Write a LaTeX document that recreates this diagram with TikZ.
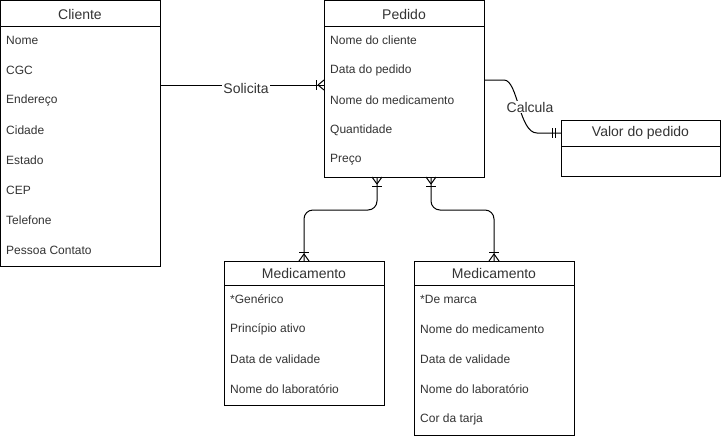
\documentclass[tikz,border=0pt]{standalone}
\usepackage{fontspec}
\setmainfont{Liberation Sans}
\begin{document}
\begin{tikzpicture}[x=1pt,y=-1pt,
  ent/.style={draw=black,line width=1pt,fill=white},
  ttl/.style={font=\fontsize{14}{16}\selectfont,text=black!80,inner sep=0pt},
  attr/.style={font=\fontsize{12}{14}\selectfont,text=black!80,anchor=west,inner sep=0pt},
  conn/.style={draw=black,line width=1pt},
  ermk/.style={draw=black,line width=1pt},
  lbl/.style={font=\fontsize{14}{16}\selectfont,text=black!80,fill=white,inner sep=1pt}]
\useasboundingbox[fill=white] (0,0) rectangle (721,440);

% Cliente
\draw[ent] (0.5,0.5) rectangle (160,266);
\draw[ent] (0.5,26) -- (160,26);
\node[ttl] (cliT) at (80,14) {Cliente};
\node[attr] (c1) at (6,40) {Nome};
\node[attr] (c2) at (6,70) {CGC};
\node[attr] (c3) at (6,100) {Endereço};
\node[attr] (c4) at (6,130) {Cidade};
\node[attr] (c5) at (6,160) {Estado};
\node[attr] (c6) at (6,190) {CEP};
\node[attr] (c7) at (6,220) {Telefone};
\node[attr] (c8) at (6,250) {Pessoa Contato};
\coordinate (cliR) at (160,85);

% Pedido
\draw[ent] (324,0.5) rectangle (484,177);
\draw[ent] (324,26) -- (484,26);
\node[ttl] (pedT) at (404,14) {Pedido};
\node[attr] (p1) at (330,40) {Nome do cliente};
\node[attr] (p2) at (330,70) {Data do pedido};
\node[attr] (p3) at (330,100) {Nome do medicamento};
\node[attr] (p4) at (330,130) {Quantidade};
\node[attr] (p5) at (330,160) {Preço};
\coordinate (pedL) at (324,85);
\coordinate (pedR) at (484,80);
\coordinate (pedB1) at (377,177);
\coordinate (pedB2) at (431,177);

% Valor do pedido
\draw[ent] (561,120) rectangle (720,176);
\draw[ent] (561,146) -- (720,146);
\node[ttl] (valT) at (640.5,133) {Valor do pedido};
\coordinate (valL) at (561,133);

% Medicamento 1
\draw[ent] (224,261) rectangle (384,405);
\draw[ent] (224,285) -- (384,285);
\node[ttl] (m1T) at (304,273) {Medicamento};
\node[attr] (m11) at (230,299) {*Genérico};
\node[attr] (m12) at (230,329) {Princípio ativo};
\node[attr] (m13) at (230,359) {Data de validade};
\node[attr] (m14) at (230,389) {Nome do laboratório};
\coordinate (m1Top) at (304,261);

% Medicamento 2
\draw[ent] (414,261) rectangle (574,435);
\draw[ent] (414,285) -- (574,285);
\node[ttl] (m2T) at (494,273) {Medicamento};
\node[attr] (m21) at (420,299) {*De marca};
\node[attr] (m22) at (420,329) {Nome do medicamento};
\node[attr] (m23) at (420,359) {Data de validade};
\node[attr] (m24) at (420,389) {Nome do laboratório};
\node[attr] (m25) at (420,419) {Cor da tarja};
\coordinate (m2Top) at (494,261);

% Solicita
\draw[conn] (cliR) -- (pedL);
\node[lbl] (solL) at (246,88) {Solicita};
\draw[ermk] (pedL) ++(-8,-5) -- ++(0,10);
\draw[ermk] (pedL) ++(-6,0) -- ++(6,-5);
\draw[ermk] (pedL) ++(-6,0) -- ++(6,5);

% Calcula
\draw[conn] (pedR) -- ++(20,0) .. controls ++(14,0) and ++(-18,0) .. ([xshift=-24pt]valL) -- (valL);
\node[lbl] (calL) at (530,107) {Calcula};
\draw[ermk] (valL) ++(-6,-5) -- ++(0,10);
\draw[ermk] (valL) ++(-9,-5) -- ++(0,10);

% Pedido - Medicamento 1
\draw[conn,rounded corners=9pt] (pedB1) -- (377,210) -- (304,210) -- (m1Top);
\draw[ermk] (pedB1) ++(-5,9) -- ++(10,0);
\draw[ermk] (pedB1) ++(0,7) -- ++(-5,-7);
\draw[ermk] (pedB1) ++(0,7) -- ++(5,-7);
\draw[ermk] (m1Top) ++(-5,-9) -- ++(10,0);
\draw[ermk] (m1Top) ++(0,-7) -- ++(-5,7);
\draw[ermk] (m1Top) ++(0,-7) -- ++(5,7);

% Pedido - Medicamento 2
\draw[conn,rounded corners=9pt] (pedB2) -- (431,210) -- (494,210) -- (m2Top);
\draw[ermk] (pedB2) ++(-5,9) -- ++(10,0);
\draw[ermk] (pedB2) ++(0,7) -- ++(-5,-7);
\draw[ermk] (pedB2) ++(0,7) -- ++(5,-7);
\draw[ermk] (m2Top) ++(-5,-9) -- ++(10,0);
\draw[ermk] (m2Top) ++(0,-7) -- ++(-5,7);
\draw[ermk] (m2Top) ++(0,-7) -- ++(5,7);
\end{tikzpicture}
\end{document}
